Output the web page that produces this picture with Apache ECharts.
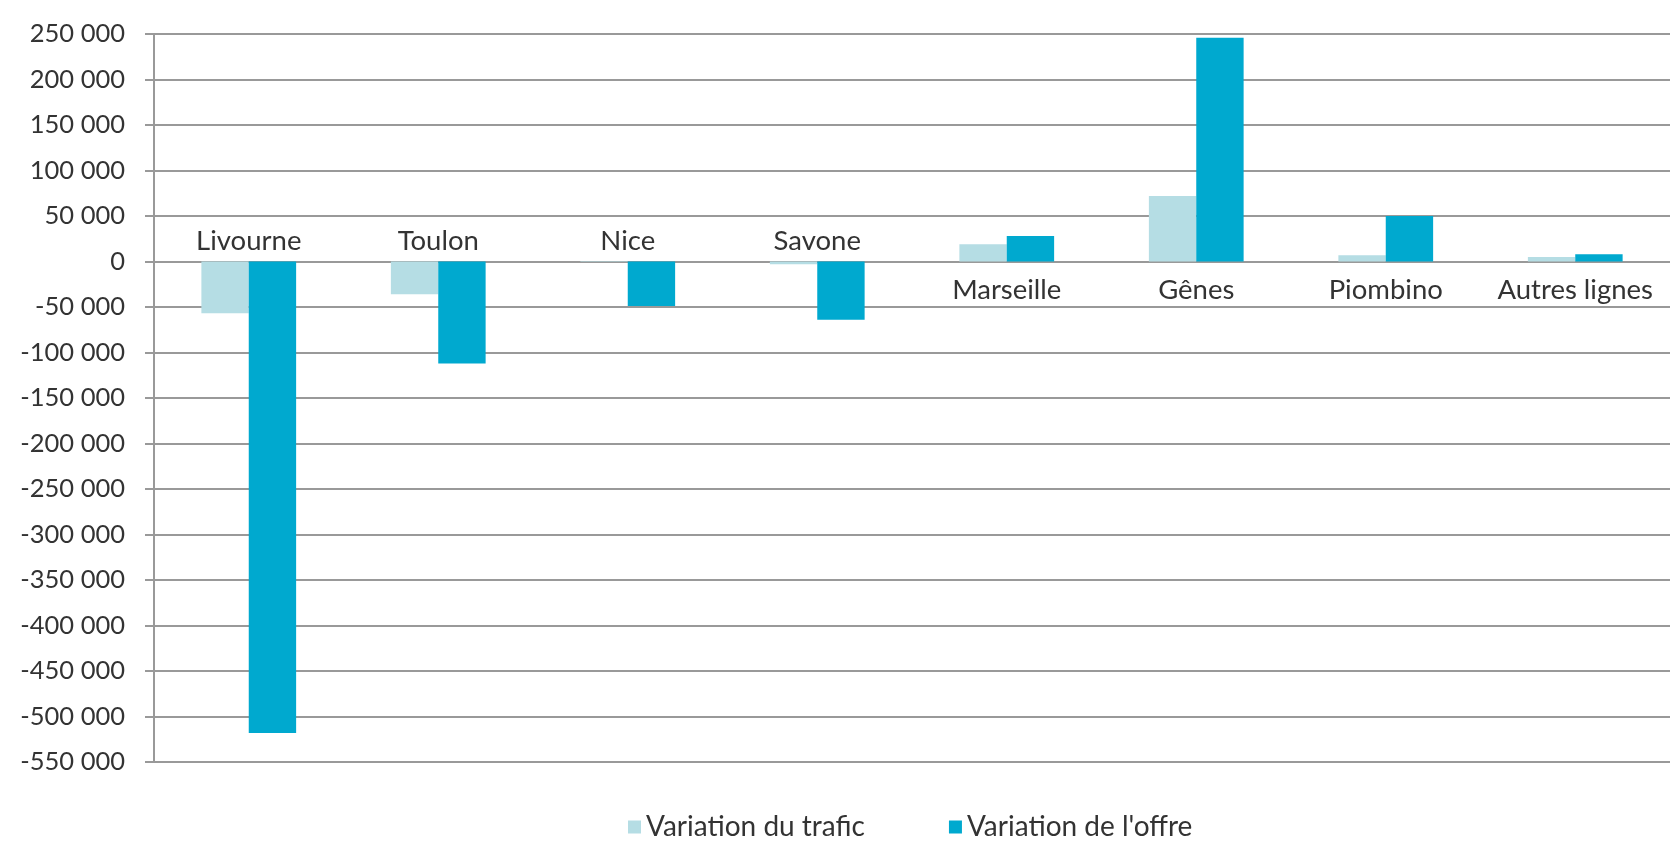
<!DOCTYPE html>
<html><head><meta charset="utf-8">
<script src="https://cdn.jsdelivr.net/npm/echarts@6/dist/echarts.min.js"></script>
<style>html,body{margin:0;padding:0;background:#fff}#c{width:1670px;height:842px}</style>
</head><body><div id="c"></div>
<script>
var categories = ['Livourne','Toulon','Nice','Savone','Marseille','Gênes','Piombino','Autres lignes'];
var trafic = [-57000, -36000, -500, -3000, 19000, 72000, 7000, 5000];
var offre = [-518000, -112000, -49000, -64000, 28000, 246000, 50000, 8000];
var seriesNames = ['Variation du trafic', "Variation de l'offre"];
var yMin = -550000, yMax = 250000, yStep = 50000;

var FONT = 'Lato';
var TXT = '#333333';
function fmt(v){
  var s = Math.abs(v).toString().replace(/\B(?=(\d{3})+(?!\d))/g, ' ');
  return (v < 0 ? '-' : '') + s;
}
// category labels sit on the opposite side of the zero line from the bars
function isNeg(i){ return Math.max(trafic[i], offre[i]) <= 0; }

var chart = echarts.init(document.getElementById('c'));
chart.setOption({
  animation: false,
  backgroundColor: '#fff',
  textStyle: {fontFamily: FONT},
  grid: {left: 154, right: 0, top: 34, bottom: 80},
  legend: {
    bottom: -4, left: 623, itemWidth: 13, itemHeight: 13, itemGap: 84,
    icon: 'rect',
    textStyle: {fontFamily: FONT, fontSize: 28, color: TXT},
    data: seriesNames
  },
  xAxis: {
    type: 'category', data: categories,
    axisLine: {show: false},
    axisTick: {show: false},
    axisLabel: {show: false}
  },
  yAxis: {
    type: 'value', min: yMin, max: yMax, interval: yStep,
    axisLine: {show: true, lineStyle: {color: '#999', width: 2}},
    axisTick: {show: true, length: 9, lineStyle: {color: '#999', width: 2}},
    splitLine: {lineStyle: {color: '#999', width: 2}},
    axisLabel: {margin: 29, fontFamily: FONT, fontSize: 25.5, color: TXT, formatter: fmt}
  },
  series: [{
    name: seriesNames[0], type: 'bar', data: trafic,
    barGap: '0%', barCategoryGap: '50%',
    itemStyle: {color: '#b5dde4'}
  }, {
    name: seriesNames[1], type: 'bar', data: offre,
    barGap: '0%', barCategoryGap: '50%',
    itemStyle: {color: '#00a9cf'}
  }]
});

// category labels placed at the zero line through the chart's own scales
var y0 = chart.convertToPixel({yAxisIndex: 0}, 0);
var texts = categories.map(function(c, i){
  var x = chart.convertToPixel({xAxisIndex: 0}, i);
  var neg = isNeg(i);
  return {
    type: 'text', x: x, y: neg ? y0 - 20 : y0 + 29, silent: true,
    style: {text: c, fill: TXT, font: '27.5px ' + FONT, align: 'center', verticalAlign: 'middle'}
  };
});
chart.setOption({graphic: texts});
</script></body></html>
